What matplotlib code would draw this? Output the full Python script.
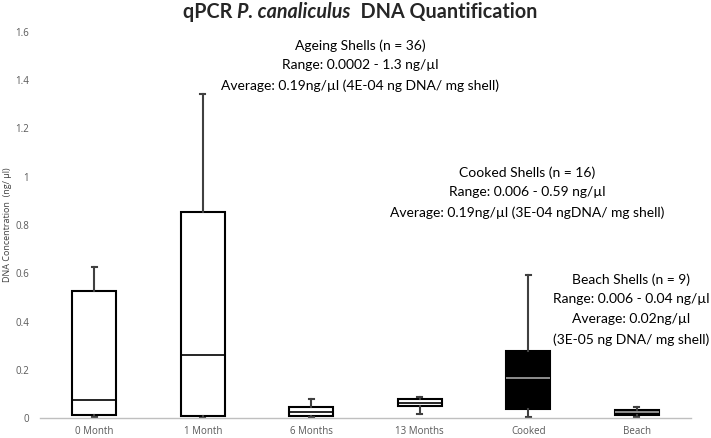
import matplotlib
matplotlib.use("Agg")
import matplotlib.pyplot as plt
from matplotlib.ticker import FuncFormatter

plt.rcParams['font.family'] = ['Lato', 'DejaVu Sans']

categories = ["0 Month", "1 Month", "6 Months", "13 Months", "Cooked", "Beach"]
whis_lo = [0.005, 0.002, 0.006, 0.015, 0.006, 0.006]
q1 = [0.012, 0.010, 0.010, 0.050, 0.037, 0.012]
medians = [0.073, 0.262, 0.025, 0.063, 0.164, 0.024]
q3 = [0.527, 0.853, 0.044, 0.079, 0.279, 0.034]
whis_hi = [0.625, 1.344, 0.079, 0.086, 0.591, 0.044]
filled = [False, False, False, False, True, True]

y_ticks = [0, 0.2, 0.4, 0.6, 0.8, 1.0, 1.2, 1.4, 1.6]

title_parts = [("qPCR ", "normal"), ("P. canaliculus", "italic"), ("  DNA Quantification", "normal")]
ylabel = "DNA Concentration  (ng/ µl)"
ann_ageing = "Ageing Shells (n = 36)\nRange: 0.0002 - 1.3 ng/µl\nAverage: 0.19ng/µl (4E-04 ng DNA/ mg shell)"
ann_cooked = "Cooked Shells (n = 16)\nRange: 0.006 - 0.59 ng/µl\nAverage: 0.19ng/µl (3E-04 ngDNA/ mg shell)"
ann_beach = "Beach Shells (n = 9)\nRange: 0.006 - 0.04 ng/µl\nAverage: 0.02ng/µl\n(3E-05 ng DNA/ mg shell)"

W, H = 711, 438
fig = plt.figure(figsize=(W / 100, H / 100), dpi=100)
ax = fig.add_axes([40 / W, (H - 418) / H, 651 / W, 386 / H])

positions = list(range(len(categories)))
for i, cat in enumerate(categories):
    stats = [dict(med=medians[i], q1=q1[i], q3=q3[i], whislo=whis_lo[i], whishi=whis_hi[i], label=cat)]
    fc = "black" if filled[i] else "white"
    medc = "#a6a6a6" if filled[i] else "black"
    ax.bxp(stats, positions=[i], widths=0.405, showfliers=False, patch_artist=True,
           capwidths=[0.05],
           boxprops=dict(facecolor=fc, edgecolor="black", linewidth=1.5),
           medianprops=dict(color=medc, linewidth=1.2),
           whiskerprops=dict(color="#404040", linewidth=1.5),
           capprops=dict(color="#404040", linewidth=1.5))

ax.set_xlim(-0.5, len(categories) - 0.5)
ax.set_ylim(0, 1.6)
ax.set_xticks(positions)
ax.set_xticklabels(categories, fontsize=7, fontfamily=['Open Sans', 'DejaVu Sans'])
ax.set_yticks(y_ticks)
ax.yaxis.set_major_formatter(FuncFormatter(lambda v, p: f"{v:g}"))
for lab in ax.get_yticklabels():
    lab.set_fontfamily(['Open Sans', 'DejaVu Sans'])
    lab.set_fontsize(7)
ax.tick_params(axis="both", length=0, colors="#595959")
ax.tick_params(axis="x", pad=6)
ax.tick_params(axis="y", pad=8)
for s in ["top", "right", "left"]:
    ax.spines[s].set_visible(False)
ax.spines["bottom"].set_color("#bfbfbf")
ax.spines["bottom"].set_linewidth(1.0)

fig.text(8 / W, 1 - 225 / H, ylabel, rotation=90, ha="center", va="center", fontsize=6.5,
         color="#404040", fontfamily=['Open Sans', 'DejaVu Sans'])

# title composed of parts
fig.canvas.draw()
renderer = fig.canvas.get_renderer()
texts = []
widths = []
for txt, style in title_parts:
    t = fig.text(0, 1 - 12 / H, txt, fontsize=14.2, fontweight="bold", style=style,
                 ha="left", va="center", color="#262626")
    bb = t.get_window_extent(renderer)
    texts.append(t)
    widths.append(bb.width)
total = sum(widths)
x0 = 360 - total / 2
for t, w in zip(texts, widths):
    t.set_x(x0 / W)
    x0 += w

ann_kw = dict(ha="center", va="top", fontsize=10, linespacing=1.78, color="black")
fig.text(360 / W, 1 - 39 / H, ann_ageing, **ann_kw)
fig.text(527 / W, 1 - 166 / H, ann_cooked, **ann_kw)
fig.text(631 / W, 1 - 273 / H, ann_beach, **ann_kw)

fig.savefig("out.png", dpi=100)
